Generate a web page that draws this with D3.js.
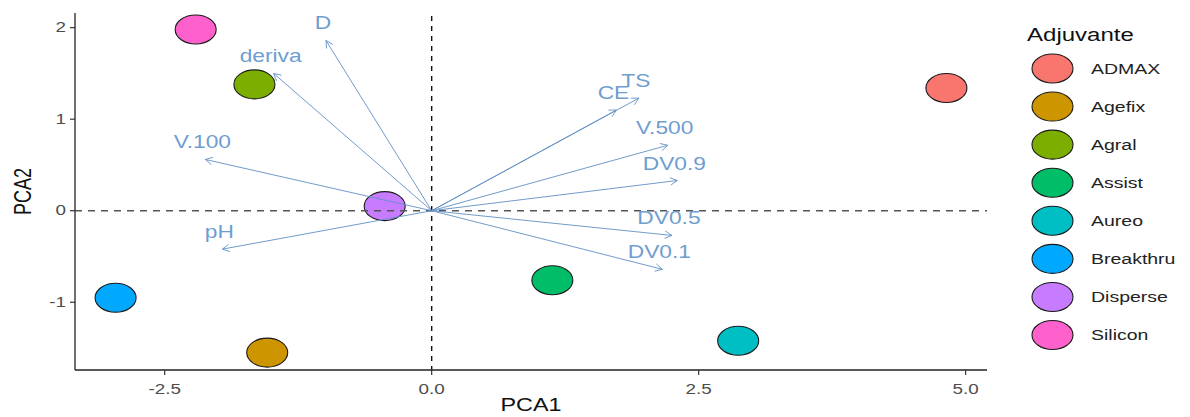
<!DOCTYPE html>
<html>
<head>
<meta charset="utf-8">
<script src="https://cdn.jsdelivr.net/npm/d3@7"></script>
<style>
  html, body { margin: 0; padding: 0; background: #fff; }
  svg { display: block; font-family: "Liberation Sans", Arial, sans-serif; }
</style>
</head>
<body>
<svg id="chart" width="1190" height="417"></svg>
<script>
// ---- data ----
const adjuvants = ["ADMAX", "Agefix", "Agral", "Assist", "Aureo", "Breakthru", "Disperse", "Silicon"];
const pc1 = [4.82, -1.54, -1.66, 1.13, 2.87, -2.96, -0.44, -2.21];
const pc2 = [1.34, -1.55, 1.38, -0.76, -1.42, -0.95, 0.05, 1.98];

const variables = ["D", "deriva", "V.100", "pH", "CE", "TS", "V.500", "DV0.9", "DV0.5", "DV0.1"];
const load1 = [-0.99, -1.48, -2.12, -1.96, 1.73, 1.94, 2.21, 2.30, 2.25, 2.16];
const load2 = [1.86, 1.50, 0.56, -0.42, 1.10, 1.23, 0.715, 0.33, -0.27, -0.64];

const xTicks = [-2.5, 0.0, 2.5, 5.0];
const yTicks = [-1, 0, 1, 2];
const xDomain = [-3.34, 5.20];
const yDomain = [-1.74, 2.16];
const palette = ["#F8766D", "#CD9600", "#7CAE00", "#00BE67", "#00BFC4", "#00A9FF", "#C77CFF", "#FF61CC"];

// ---- layout ----
const SX = 1.3; // horizontal stretch of the reference image
const panel = { left: 75, right: 987, top: 13, bottom: 370 };
const svg = d3.select("#chart");

const x = d3.scaleLinear().domain(xDomain).range([panel.left, panel.right]);
const y = d3.scaleLinear().domain(yDomain).range([panel.bottom, panel.top]);
const color = d3.scaleOrdinal().domain(adjuvants).range(palette);

function placeText(sel, px, py, extra) {
  sel.attr("x", 0).attr("y", 0)
     .attr("transform", `translate(${px},${py}) scale(${SX},1)` + (extra || ""));
  return sel;
}

// ---- points ----
const pts = adjuvants.map((a, i) => ({ name: a, x: pc1[i], y: pc2[i] }));
svg.append("g").selectAll("ellipse").data(pts).join("ellipse")
  .attr("cx", d => x(d.x)).attr("cy", d => y(d.y))
  .attr("rx", 20.5).attr("ry", 14.5)
  .attr("fill", d => color(d.name))
  .attr("stroke", "#1a1a1a").attr("stroke-width", 1.1);

// ---- reference lines ----
svg.append("line")
  .attr("x1", panel.left).attr("x2", panel.right)
  .attr("y1", y(0)).attr("y2", y(0))
  .attr("stroke", "#555").attr("stroke-width", 1.4).attr("stroke-dasharray", "7,6");
svg.append("line")
  .attr("x1", x(0)).attr("x2", x(0))
  .attr("y1", panel.top + 3).attr("y2", panel.bottom)
  .attr("stroke", "#111").attr("stroke-width", 1.4).attr("stroke-dasharray", "5,5");

// ---- loading arrows ----
const arrowColor = "#6391c6";
const vecs = variables.map((v, i) => ({ name: v, x: load1[i], y: load2[i] }));
const ag = svg.append("g");
vecs.forEach(d => {
  const x0 = x(0), y0 = y(0), x1 = x(d.x), y1 = y(d.y);
  ag.append("line")
    .attr("x1", x0).attr("y1", y0).attr("x2", x1).attr("y2", y1)
    .attr("stroke", arrowColor).attr("stroke-width", 1).attr("opacity", 0.9);
  const ang = Math.atan2(y1 - y0, x1 - x0);
  const L = 8, a = 28 * Math.PI / 180;
  const p1 = [x1 - L * Math.cos(ang - a), y1 - L * Math.sin(ang - a)];
  const p2 = [x1 - L * Math.cos(ang + a), y1 - L * Math.sin(ang + a)];
  ag.append("path")
    .attr("d", `M${p1[0]},${p1[1]}L${x1},${y1}L${p2[0]},${p2[1]}`)
    .attr("fill", "none").attr("stroke", arrowColor).attr("stroke-width", 1).attr("opacity", 0.9);
});
ag.selectAll("text").data(vecs).join("text")
  .each(function(d) { placeText(d3.select(this), x(d.x) - 3, y(d.y) - 17); })
  .attr("text-anchor", "middle").attr("dominant-baseline", "central")
  .attr("font-size", 17.5).attr("fill", "#6f9dcf")
  .text(d => d.name);

// ---- axes ----
const axes = svg.append("g");
axes.append("line").attr("x1", panel.left).attr("x2", panel.left)
  .attr("y1", panel.top).attr("y2", panel.bottom).attr("stroke", "#222").attr("stroke-width", 1.3);
axes.append("line").attr("x1", panel.left).attr("x2", panel.right)
  .attr("y1", panel.bottom).attr("y2", panel.bottom).attr("stroke", "#222").attr("stroke-width", 1.3);

axes.selectAll(".xt").data(xTicks).join("line").attr("class", "xt")
  .attr("x1", d => x(d)).attr("x2", d => x(d))
  .attr("y1", panel.bottom).attr("y2", panel.bottom + 5)
  .attr("stroke", "#333").attr("stroke-width", 1.2);
axes.selectAll(".xl").data(xTicks).join("text").attr("class", "xl")
  .each(function(d) { placeText(d3.select(this), x(d), panel.bottom + 19); })
  .attr("text-anchor", "middle").attr("dominant-baseline", "central")
  .attr("font-size", 14.5).attr("fill", "#4d4d4d")
  .text(d => d3.format(".1f")(d).replace("−", "-"));

axes.selectAll(".yt").data(yTicks).join("line").attr("class", "yt")
  .attr("y1", d => y(d)).attr("y2", d => y(d))
  .attr("x1", panel.left - 5).attr("x2", panel.left)
  .attr("stroke", "#333").attr("stroke-width", 1.2);
axes.selectAll(".yl").data(yTicks).join("text").attr("class", "yl")
  .each(function(d) { placeText(d3.select(this), panel.left - 9, y(d)); })
  .attr("text-anchor", "end").attr("dominant-baseline", "central")
  .attr("font-size", 14.5).attr("fill", "#4d4d4d")
  .text(d => String(d).replace("−", "-"));

// axis titles
placeText(svg.append("text"), (panel.left + panel.right) / 2, 405)
  .attr("text-anchor", "middle").attr("dominant-baseline", "central")
  .attr("font-size", 18).attr("fill", "#111").text("PCA1");
svg.append("text")
  .attr("x", 0).attr("y", 0)
  .attr("transform", `translate(23,${(panel.top + panel.bottom) / 2}) rotate(-90) scale(1,${SX})`)
  .attr("text-anchor", "middle").attr("dominant-baseline", "central")
  .attr("font-size", 18).attr("fill", "#111").text("PCA2");

// ---- legend ----
const lg = svg.append("g");
placeText(lg.append("text"), 1027, 35)
  .attr("dominant-baseline", "central")
  .attr("font-size", 18.5).attr("fill", "#111").text("Adjuvante");
const ly = d3.scalePoint().domain(adjuvants).range([68.5, 335]);
lg.selectAll("ellipse").data(adjuvants).join("ellipse")
  .attr("cx", 1052.5).attr("cy", d => ly(d))
  .attr("rx", 20.5).attr("ry", 14.5)
  .attr("fill", d => color(d)).attr("stroke", "#1a1a1a").attr("stroke-width", 1.1);
lg.selectAll("text.lab").data(adjuvants).join("text").attr("class", "lab")
  .each(function(d) { placeText(d3.select(this), 1091, ly(d)); })
  .attr("dominant-baseline", "central")
  .attr("font-size", 15).attr("fill", "#222").text(d => d);
</script>
</body>
</html>
